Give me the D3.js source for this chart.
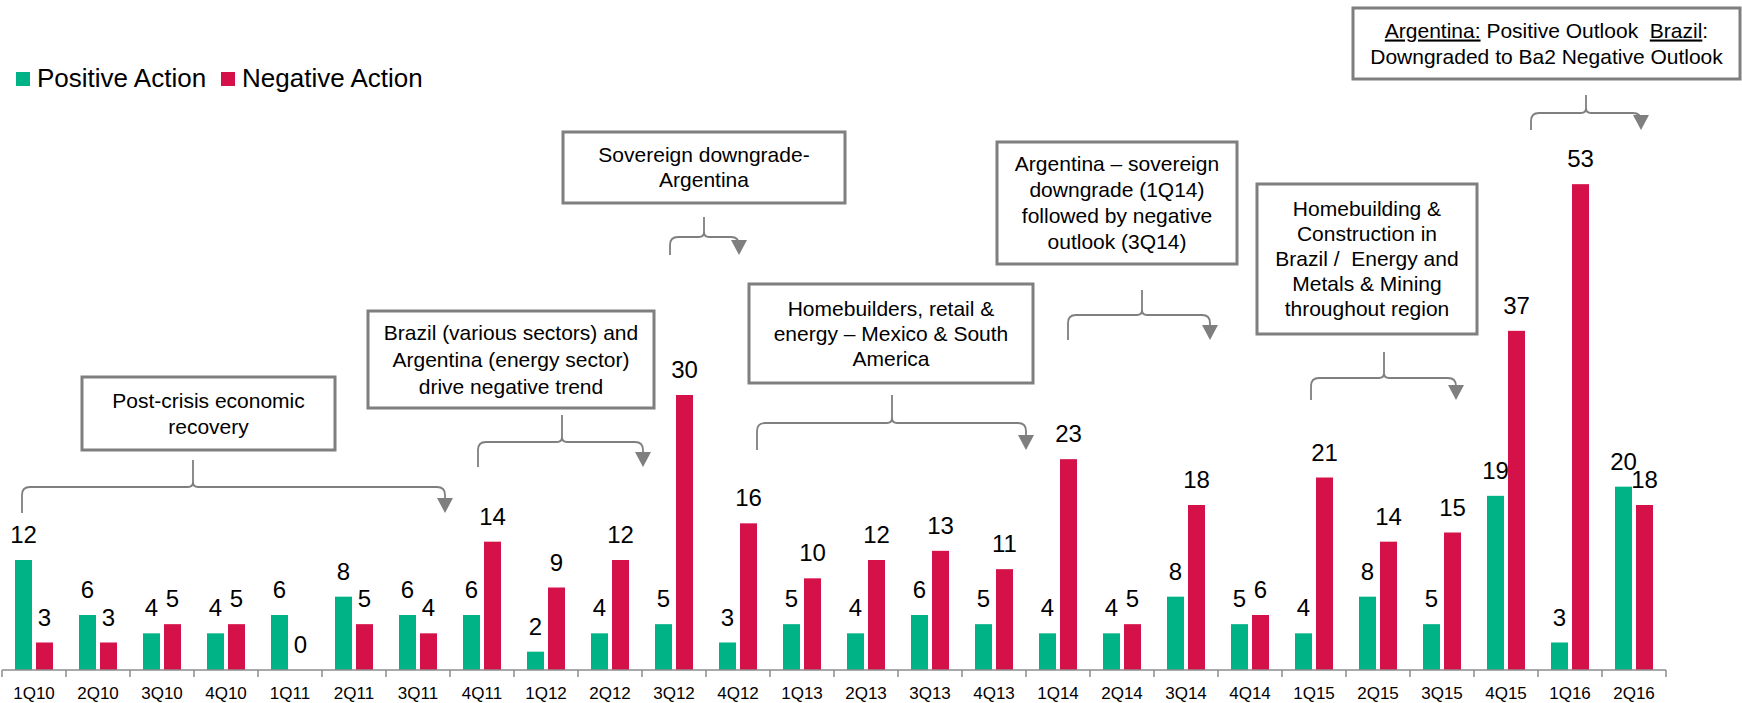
<!DOCTYPE html>
<html>
<head>
<meta charset="utf-8">
<script src="https://cdn.jsdelivr.net/npm/d3@7"></script>
<style>
  html, body { margin: 0; padding: 0; background: #ffffff; }
  svg { display: block; font-family: "Liberation Sans", Arial, sans-serif; }
</style>
</head>
<body>
<svg id="chart" width="1742" height="703"></svg>
<script>
// Rating actions per quarter
const categories = ["1Q10","2Q10","3Q10","4Q10","1Q11","2Q11","3Q11","4Q11","1Q12","2Q12","3Q12","4Q12","1Q13","2Q13","3Q13","4Q13","1Q14","2Q14","3Q14","4Q14","1Q15","2Q15","3Q15","4Q15","1Q16","2Q16"];
const positiveValues = [12, 6, 4, 4, 6, 8, 6, 6, 2, 4, 5, 3, 5, 4, 6, 5, 4, 4, 8, 5, 4, 8, 5, 19, 3, 20];
const negativeValues = [3, 3, 5, 5, 0, 5, 4, 14, 9, 12, 30, 16, 10, 12, 13, 11, 23, 5, 18, 6, 21, 14, 15, 37, 53, 18];
const seriesNames = ["Positive Action", "Negative Action"];

// Callout texts (each entry is a list of lines; segments flagged u are underlined)
const noteLines = [
  [["Post-crisis economic"], ["recovery"]],
  [["Brazil (various sectors) and"], ["Argentina (energy sector)"], ["drive negative trend"]],
  [["Sovereign downgrade-"], ["Argentina"]],
  [["Homebuilders, retail &"], ["energy \u2013 Mexico & South"], ["America"]],
  [["Argentina \u2013 sovereign"], ["downgrade (1Q14)"], ["followed by negative"], ["outlook (3Q14)"]],
  [["Homebuilding &"], ["Construction in"], ["Brazil /  Energy and"], ["Metals & Mining"], ["throughout region"]],
  [[{t:"Argentina:", u:true}, {t:" Positive Outlook  "}, {t:"Brazil", u:true}, {t:":"}], ["Downgraded to Ba2 Negative Outlook"]]
];

// Styling
const colors = { pos: "#00b386", neg: "#d5114a", axis: "#8c8c8c", note: "#7f7f7f" };

// Callout box geometry [x0, y0, x1, y1, line spacing]
const noteBoxes = [
  [82, 377, 335, 450, 26],
  [368, 311, 654, 408, 27],
  [563, 132, 845, 203, 25],
  [749, 284, 1033, 383, 25],
  [997, 142, 1237, 264, 26],
  [1257, 184, 1477, 334, 25],
  [1353, 8, 1740, 79, 26]
];
// Bracket geometry [left, right, horizontal y, stem x, stem top, bottom y]
const noteBrackets = [
  [22, 445, 487, 193, 460, 513],
  [478, 643, 442, 562, 415, 467],
  [670, 739, 237, 704, 217, 255],
  [757, 1026, 423, 892, 395, 450],
  [1068, 1210, 315, 1142, 290, 340],
  [1311, 1456, 378, 1384, 352, 400],
  [1531, 1641, 113, 1586, 95, 130]
];

const svg = d3.select("#chart");

const x = d3.scaleBand().domain(categories).range([2, 1666]).padding(0);
const x1 = d3.scaleBand().domain(["pos", "neg"]).range([13, 51]).paddingInner(4 / 21);
const y = d3.scaleLinear().domain([0, 60]).range([670, 120]);

const rows = categories.map((c, i) => ({ cat: c, pos: positiveValues[i], neg: negativeValues[i] }));

// Bars
const groups = svg.append("g").selectAll("g").data(rows).join("g")
  .attr("transform", d => `translate(${x(d.cat)},0)`);

["pos", "neg"].forEach(key => {
  groups.append("rect")
    .attr("x", x1(key))
    .attr("width", x1.bandwidth())
    .attr("y", d => y(d[key]))
    .attr("height", d => y(0) - y(d[key]))
    .attr("fill", colors[key]);
  groups.append("text")
    .attr("x", x1(key) + x1.bandwidth() / 2)
    .attr("y", d => y(d[key]) - 17)
    .attr("text-anchor", "middle")
    .attr("font-size", 24)
    .attr("fill", "#000")
    .text(d => d[key]);
});

// X axis: labels from d3.axisBottom, ticks at category boundaries
const axisG = svg.append("g").attr("transform", `translate(0,${y(0)})`)
  .call(d3.axisBottom(x).tickSize(0).tickPadding(17));
axisG.select(".domain").remove();
axisG.selectAll("text").attr("font-size", 17).attr("fill", "#000")
  .attr("font-family", "Liberation Sans, Arial, sans-serif");

const [r0, r1] = x.range();
axisG.append("line").attr("x1", r0).attr("x2", r1).attr("y1", 0).attr("y2", 0)
  .attr("stroke", colors.axis).attr("stroke-width", 1.5);
const edges = categories.map(c => x(c)).concat([r1]);
axisG.selectAll(".edge").data(edges).join("line").attr("class", "edge")
  .attr("x1", d => d).attr("x2", d => d).attr("y1", 0).attr("y2", 7)
  .attr("stroke", colors.axis).attr("stroke-width", 1.5);

// Legend
const legendPos = [[16, 37], [221, 242]];
seriesNames.forEach((name, i) => {
  svg.append("rect").attr("x", legendPos[i][0]).attr("y", 72).attr("width", 14).attr("height", 14)
    .attr("fill", i === 0 ? colors.pos : colors.neg);
  svg.append("text").attr("x", legendPos[i][1]).attr("y", 87).attr("font-size", 26)
    .attr("fill", "#000").text(name);
});

// Callout boxes
noteBoxes.forEach((b, i) => {
  const [x0, y0, x1b, y1b, ls] = b;
  svg.append("rect").attr("x", x0).attr("y", y0).attr("width", x1b - x0).attr("height", y1b - y0)
    .attr("fill", "#fff").attr("stroke", colors.note).attr("stroke-width", 3);
  const lines = noteLines[i];
  const cx = (x0 + x1b) / 2;
  const first = (y0 + y1b) / 2 - (lines.length - 1) * ls / 2 + 7;
  lines.forEach((segs, j) => {
    const t = svg.append("text").attr("x", cx).attr("y", first + j * ls)
      .attr("text-anchor", "middle").attr("font-size", 21).attr("fill", "#000")
      .style("white-space", "pre");
    segs.forEach(s => {
      const seg = typeof s === "string" ? { t: s } : s;
      const sp = t.append("tspan").text(seg.t);
      if (seg.u) sp.attr("text-decoration", "underline");
    });
  });
});

// Brackets with arrows
noteBrackets.forEach(b => {
  const [L, R, H, S, top, end] = b;
  const r = 8, c = 5;
  const p = d3.path();
  p.moveTo(L, end);
  p.lineTo(L, H + r);
  p.quadraticCurveTo(L, H, L + r, H);
  p.lineTo(S - c, H);
  p.quadraticCurveTo(S, H, S, H - c);
  p.lineTo(S, top);
  p.moveTo(S, H - c);
  p.quadraticCurveTo(S, H, S + c, H);
  p.lineTo(R - r, H);
  p.quadraticCurveTo(R, H, R, H + r);
  p.lineTo(R, end - 14);
  svg.append("path").attr("d", p.toString()).attr("fill", "none")
    .attr("stroke", colors.note).attr("stroke-width", 1.8);
  svg.append("path")
    .attr("d", `M${R - 8},${end - 15} L${R + 8},${end - 15} L${R},${end} Z`)
    .attr("fill", colors.note);
});
</script>
</body>
</html>
